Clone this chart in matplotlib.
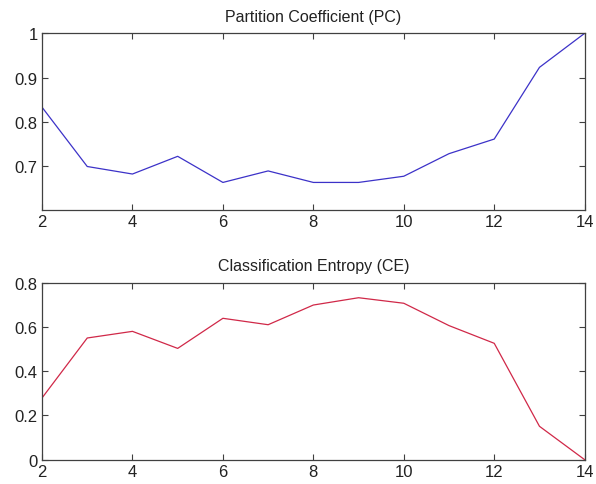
import matplotlib
matplotlib.use("Agg")
import matplotlib.pyplot as plt

plt.rcParams['font.family'] = ['Liberation Sans', 'DejaVu Sans']

clusters = [2, 3, 4, 5, 6, 7, 8, 9, 10, 11, 12, 13, 14]
pc_values = [0.833, 0.699, 0.682, 0.722, 0.663, 0.689, 0.663, 0.663, 0.677, 0.728, 0.761, 0.923, 1.0]
ce_values = [0.279, 0.550, 0.580, 0.503, 0.639, 0.610, 0.699, 0.732, 0.707, 0.606, 0.526, 0.151, 0.0]

x_ticks = [2, 4, 6, 8, 10, 12, 14]
pc_ticks = [0.7, 0.8, 0.9, 1.0]
pc_labels = ['0.7', '0.8', '0.9', '1']
ce_ticks = [0, 0.2, 0.4, 0.6, 0.8]
ce_labels = ['0', '0.2', '0.4', '0.6', '0.8']

fig = plt.figure(figsize=(5.96, 4.85), dpi=100)
ax1 = fig.add_axes([0.0705, 0.5643, 0.9105, 0.365])
ax2 = fig.add_axes([0.0705, 0.0501, 0.9105, 0.365])

axis_color = '#404040'

def style(ax):
    ax.set_xlim(2, 14)
    ax.set_xticks(x_ticks)
    ax.tick_params(direction='in', length=4, width=0.8, color=axis_color,
                   labelsize=12, labelcolor='#222222', top=True, right=True, pad=3)
    for s in ax.spines.values():
        s.set_color(axis_color)
        s.set_linewidth(0.9)

ax1.plot(clusters, pc_values, color='#3c32c8', linewidth=0.9)
style(ax1)
ax1.set_ylim(0.6, 1.0)
ax1.set_yticks(pc_ticks)
ax1.set_yticklabels(pc_labels)
ax1.set_title('Partition Coefficient (PC)', fontsize=11.5, color='#222222', pad=9)

ax2.plot(clusters, ce_values, color='#d02848', linewidth=0.9)
style(ax2)
ax2.set_ylim(0, 0.8)
ax2.set_yticks(ce_ticks)
ax2.set_yticklabels(ce_labels)
ax2.set_title('Classification Entropy (CE)', fontsize=11.5, color='#222222', pad=9)

fig.savefig('out.png', dpi=100)
